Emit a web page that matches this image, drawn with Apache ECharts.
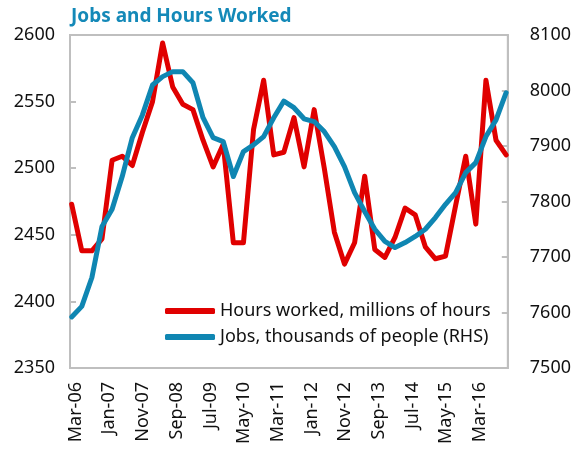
<!DOCTYPE html>
<html>
<head>
<meta charset="utf-8">
<script src="https://cdn.jsdelivr.net/npm/echarts@6/dist/echarts.min.js"></script>
<style>
  html, body { margin: 0; padding: 0; background: #fff; }
  #chart { width: 574px; height: 451px; }
</style>
</head>
<body>
<div id="chart"></div>
<script>
// quarterly readings, Mar-06 .. Dec-16
const hoursWorked = [2473, 2438, 2438, 2447, 2506, 2509, 2502, 2527, 2550, 2594, 2561, 2548,
    2544, 2521, 2501, 2518, 2444, 2444, 2529, 2566, 2510, 2512, 2538, 2501,
    2544, 2500, 2452, 2428, 2444, 2494, 2439, 2433, 2448, 2470, 2465, 2441,
    2432, 2434, 2472, 2509, 2458, 2566, 2521, 2510]
const jobs = [7592, 7611, 7663, 7755, 7786, 7845, 7915, 7956, 8010, 8025, 8034, 8034,
    8014, 7951, 7915, 7908, 7845, 7890, 7902, 7917, 7951, 7981, 7969, 7949,
    7944, 7926, 7899, 7863, 7816, 7782, 7750, 7728, 7717, 7726, 7737, 7750,
    7771, 7795, 7816, 7852, 7870, 7917, 7947, 7996]
const monthNames = ['Jan', 'Feb', 'Mar', 'Apr', 'May', 'Jun', 'Jul', 'Aug', 'Sep', 'Oct', 'Nov', 'Dec']
const startYear = 2006, startMonth = 2, monthCount = 130

// monthly category axis, quarterly values placed every third month
const months = []
const hoursData = []
const jobsData = []
for (let i = 0; i < monthCount; i++) {
    const m = startMonth + i
    const yy = String((startYear + Math.floor(m / 12)) % 100).padStart(2, '0')
    months.push(monthNames[m % 12] + '-' + yy)
    hoursData.push(i % 3 === 0 ? hoursWorked[i / 3] : null)
    jobsData.push(i % 3 === 0 ? jobs[i / 3] : null)
}

const font = 'Noto Sans'
const axisGrey = '#bfbfbf'
const red = '#e00000'
const blue = '#0f86b2'
const chart = echarts.init(document.getElementById('chart'))

chart.setOption({
    animation: false,
    title: {
        text: 'Jobs and Hours Worked',
        left: 66,
        top: 2,
        textStyle: { fontFamily: font, fontSize: 19, fontWeight: 'bold', color: '#1489b8' }
    },
    legend: {
        left: 160,
        top: 297,
        orient: 'vertical',
        icon: 'roundRect',
        itemWidth: 50,
        itemHeight: 6,
        itemGap: 8,
        textStyle: { fontFamily: font, fontSize: 18, color: '#111' },
        data: ['Hours worked, millions of hours', 'Jobs, thousands of people (RHS)']
    },
    grid: {
        left: 70, right: 64, top: 35, bottom: 83,
        show: true, borderColor: axisGrey, borderWidth: 2
    },
    xAxis: {
        type: 'category',
        data: months,
        boundaryGap: true,
        axisLine: { lineStyle: { color: axisGrey, width: 2 } },
        axisTick: { inside: true, length: 6, interval: 9, lineStyle: { color: axisGrey, width: 2 } },
        axisLabel: {
            interval: 9, rotate: 90, margin: 14,
            verticalAlign: 'top', lineHeight: 8,
            fontFamily: font, fontSize: 18, color: '#111'
        }
    },
    yAxis: [
        {
            type: 'value', min: 2350, max: 2600, interval: 50,
            splitLine: { show: false },
            axisLine: { show: true, lineStyle: { color: axisGrey, width: 2 } },
            axisTick: { show: true, inside: true, length: 6, lineStyle: { color: axisGrey, width: 2 } },
            axisLabel: { margin: 15, fontFamily: font, fontSize: 18, color: '#111', formatter: v => String(v) }
        },
        {
            type: 'value', min: 7500, max: 8100, interval: 100,
            splitLine: { show: false },
            axisLine: { show: true, lineStyle: { color: axisGrey, width: 2 } },
            axisTick: { show: true, inside: true, length: 6, lineStyle: { color: axisGrey, width: 2 } },
            axisLabel: { margin: 22, fontFamily: font, fontSize: 18, color: '#111', formatter: v => String(v) }
        }
    ],
    series: [
        {
            name: 'Hours worked, millions of hours',
            type: 'line',
            yAxisIndex: 0,
            data: hoursData,
            connectNulls: true,
            symbol: 'none',
            itemStyle: { color: red },
            lineStyle: { width: 5, color: red, cap: 'round', join: 'round' }
        },
        {
            name: 'Jobs, thousands of people (RHS)',
            type: 'line',
            yAxisIndex: 1,
            data: jobsData,
            connectNulls: true,
            symbol: 'none',
            itemStyle: { color: blue },
            lineStyle: { width: 5, color: blue, cap: 'round', join: 'round' }
        }
    ]
})
</script>
</body>
</html>
